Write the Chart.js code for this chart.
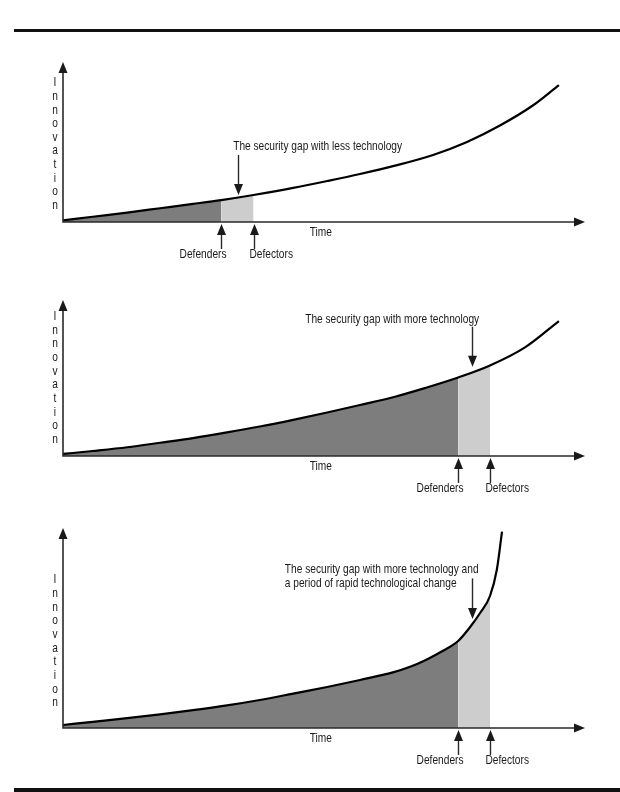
<!DOCTYPE html>
<html>
<head>
<meta charset="utf-8">
<script src="https://cdn.jsdelivr.net/npm/chart.js@4/dist/chart.umd.min.js"></script>
<style>
  html, body { margin: 0; padding: 0; background: #fff; }
  body { width: 620px; height: 792px; position: relative; overflow: hidden; }
  .rule { position: absolute; left: 14px; right: 0; background: #111; }
  canvas { position: absolute; left: 0; }
</style>
</head>
<body>
<div class="rule" style="top:29px;height:3px"></div>
<canvas id="gap1" width="620" height="230" style="top:40px"></canvas>
<canvas id="gap2" width="620" height="225" style="top:280px"></canvas>
<canvas id="gap3" width="620" height="268" style="top:510px"></canvas>
<div class="rule" style="top:788px;height:4px"></div>
<script>
// time runs 0..100 from the origin to the arrow tip, innovation 0..100 up to the arrow tip
const lessTechTime = [0, 5.7, 12.3, 18.6, 24.9, 30.3, 36.5, 44.1, 50.6, 56.9, 63.6, 70.9, 77.4, 83.7, 90.0, 95.0];
const lessTechInnovation = [1.0, 3.3, 5.9, 8.6, 11.3, 13.7, 16.9, 21.3, 25.6, 30.0, 35.2, 41.9, 50.0, 60.3, 72.8, 85.6];
const lessTechDefenders = 30.3;
const lessTechDefectors = 36.5;

const moreTechTime = [0, 5.7, 12.3, 18.6, 24.9, 31.4, 37.7, 44.1, 50.6, 56.9, 63.6, 69.3, 75.7, 81.8, 88.5, 95.0];
const moreTechInnovation = [1.3, 3.2, 5.6, 8.5, 11.5, 15.1, 18.9, 23.2, 27.9, 32.7, 38.0, 43.5, 50.3, 58.0, 69.6, 86.5];
const moreTechDefenders = 75.7;
const moreTechDefectors = 81.8;

const rapidTime = [0, 5.7, 12.3, 18.6, 24.9, 31.4, 37.7, 44.1, 50.6, 56.9, 63.2, 66.5, 69.7, 72.8, 75.7, 78.0, 79.9, 81.8, 83.1, 84.1];
const rapidInnovation = [1.5, 3.1, 4.9, 6.8, 8.9, 11.3, 14.0, 17.2, 20.5, 24.0, 27.8, 30.6, 34.3, 38.6, 43.5, 50.5, 57.5, 66.0, 79.0, 98.2];
const rapidDefenders = 75.7;
const rapidDefectors = 81.8;

const lessTechNote = ['The security gap with less technology'];
const moreTechNote = ['The security gap with more technology'];
const rapidNote = ['The security gap with more technology and', 'a period of rapid technological change'];
const yTitle = 'Innovation';
const xTitle = 'Time';
const defendersLabel = 'Defenders';
const defectorsLabel = 'Defectors';

// no narrow face is installed, so Liberation Sans is squeezed to a condensed width
const FONT = '12.4px "Liberation Sans", Arial, sans-serif';
const SQUEEZE = 0.82;
const INK = '#1a1a1a';

function label(ctx, str, x, y, align) {
  ctx.save();
  ctx.translate(x, y);
  ctx.scale(SQUEEZE, 1);
  ctx.textAlign = align;
  ctx.fillText(str, 0, 0);
  ctx.restore();
}

function head(ctx, x, y, dir) {
  // filled arrow head, tip at (x, y)
  const len = 11, half = 4.5;
  ctx.beginPath();
  ctx.moveTo(x, y);
  if (dir === 'up') { ctx.lineTo(x - half, y + len); ctx.lineTo(x + half, y + len); }
  if (dir === 'down') { ctx.lineTo(x - half, y - len); ctx.lineTo(x + half, y - len); }
  if (dir === 'right') { ctx.lineTo(x - len, y - half); ctx.lineTo(x - len, y + half); }
  ctx.closePath();
  ctx.fill();
}

const gapArrows = {
  id: 'gapArrows',
  afterDatasetsDraw(chart, args, o) {
    const { ctx, chartArea: a, scales: { x, y } } = chart;
    ctx.save();
    ctx.fillStyle = INK;
    ctx.strokeStyle = '#2a2a2a';

    // axes with arrow heads
    ctx.lineWidth = 1.6;
    ctx.beginPath();
    ctx.moveTo(a.left, a.top + 6);
    ctx.lineTo(a.left, a.bottom);
    ctx.lineTo(a.right - 6, a.bottom);
    ctx.stroke();
    head(ctx, a.left, a.top, 'up');
    head(ctx, a.right, a.bottom, 'right');

    ctx.font = FONT;
    ctx.textBaseline = 'middle';

    // vertical axis title, one letter per row
    const y0 = y.getPixelForValue(o.titleV);
    yTitle.split('').forEach((ch, i) => label(ctx, ch, a.left - 8, y0 + i * 13.65, 'center'));

    label(ctx, xTitle, x.getPixelForValue(49.4), a.bottom + 11, 'center');

    // annotation and its arrow onto the curve
    o.note.forEach((line, i) => label(ctx, line, x.getPixelForValue(o.noteT), y.getPixelForValue(o.noteV) + i * 14, 'left'));
    ctx.lineWidth = 1.4;
    const ax = Math.round(x.getPixelForValue(o.arrowT)) + 0.5;
    const top = y.getPixelForValue(o.arrowFromV), tip = y.getPixelForValue(o.arrowToV);
    ctx.beginPath(); ctx.moveTo(ax, top); ctx.lineTo(ax, tip - 8); ctx.stroke();
    head(ctx, ax, tip, 'down');

    // defenders / defectors markers below the time axis
    [[o.defenders, defendersLabel, 'right', 5], [o.defectors, defectorsLabel, 'left', -5]].forEach(([t, text, align, dx]) => {
      const px = Math.round(x.getPixelForValue(t)) + 0.5;
      ctx.beginPath(); ctx.moveTo(px, a.bottom + 10); ctx.lineTo(px, a.bottom + 27); ctx.stroke();
      head(ctx, px, a.bottom + 2, 'up');
      label(ctx, text, px + dx, a.bottom + 33, align);
    });
    ctx.restore();
  }
};

function panel(id, times, values, defenders, defectors, pad, notes) {
  const pts = times.map((t, i) => ({ x: t, y: values[i] }));
  const dark = pts.filter(p => p.x <= defenders);
  const light = pts.filter(p => p.x >= defenders && p.x <= defectors);
  const common = { pointRadius: 0, cubicInterpolationMode: 'monotone' };
  new Chart(document.getElementById(id), {
    type: 'line',
    data: {
      datasets: [
        { ...common, data: pts, borderColor: '#000', borderWidth: 2.2, fill: false },
        { ...common, data: dark, borderWidth: 0, borderColor: 'rgba(0,0,0,0)', backgroundColor: '#7d7d7d', fill: 'origin' },
        { ...common, data: light, borderWidth: 0, borderColor: 'rgba(0,0,0,0)', backgroundColor: '#cdcdcd', fill: 'origin' }
      ]
    },
    options: {
      responsive: false,
      animation: false,
      events: [],
      layout: { padding: pad },
      scales: {
        x: { type: 'linear', min: 0, max: 100, display: false },
        y: { type: 'linear', min: 0, max: 100, display: false }
      },
      plugins: {
        legend: { display: false },
        tooltip: { enabled: false },
        gapArrows: { defenders, defectors, ...notes }
      }
    },
    plugins: [gapArrows]
  });
}

panel('gap1', lessTechTime, lessTechInnovation, lessTechDefenders, lessTechDefectors,
  { left: 63, right: 35, top: 22, bottom: 48 },
  { note: lessTechNote, noteT: 32.6, noteV: 46.9, arrowT: 33.5, arrowFromV: 41.9, arrowToV: 16.9, titleV: 87 });

panel('gap2', moreTechTime, moreTechInnovation, moreTechDefenders, moreTechDefectors,
  { left: 63, right: 35, top: 20, bottom: 49 },
  { note: moreTechNote, noteT: 46.4, noteV: 87.6, arrowT: 78.4, arrowFromV: 82.9, arrowToV: 57.2, titleV: 89.3 });

panel('gap3', rapidTime, rapidInnovation, rapidDefenders, rapidDefectors,
  { left: 63, right: 35, top: 18, bottom: 50 },
  { note: rapidNote, noteT: 42.5, noteV: 79, arrowT: 78.4, arrowFromV: 74.8, arrowToV: 54.5, titleV: 74 });
</script>
</body>
</html>
